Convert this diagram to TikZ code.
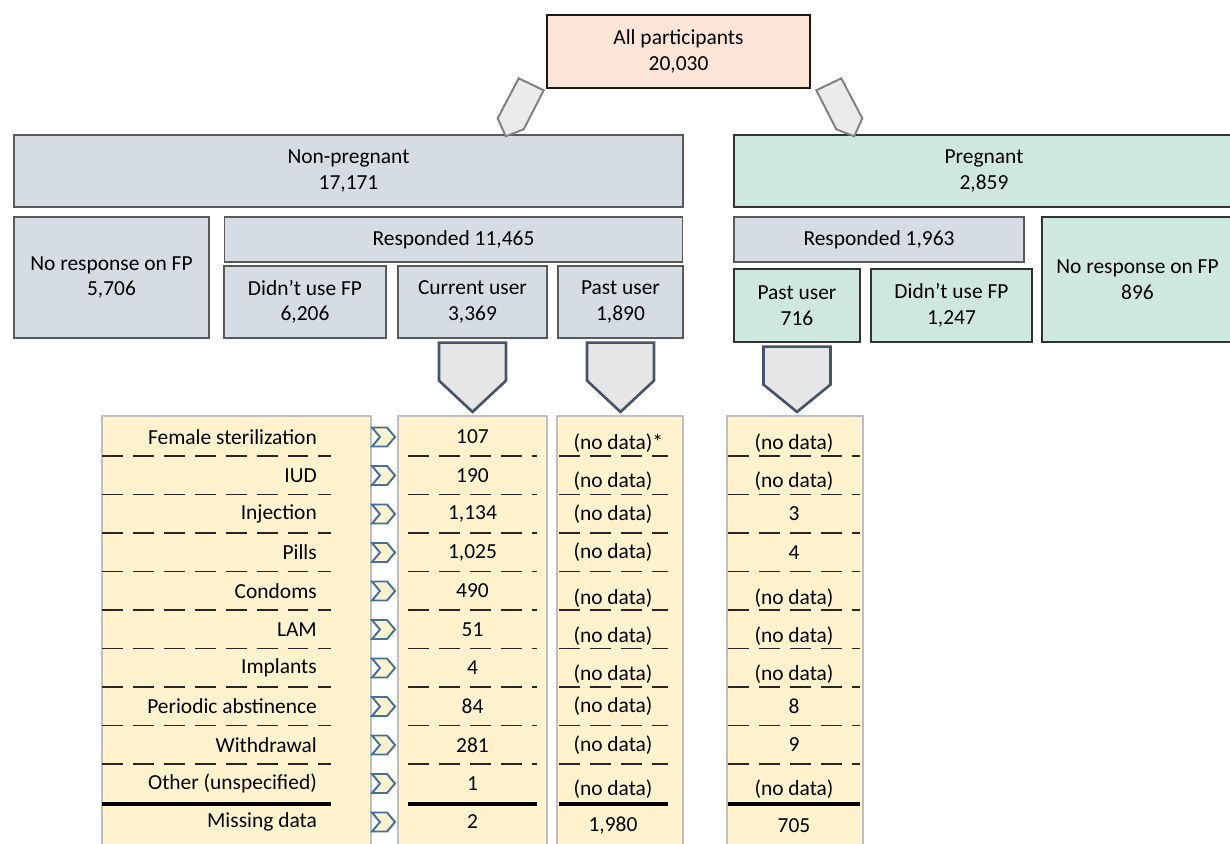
\documentclass[tikz,border=0pt]{standalone}
\usepackage{fontspec}
\setmainfont{Carlito}
\usepackage{xcolor}
\usepackage{tikz}
\usetikzlibrary{shapes,shapes.symbols,calc,arrows.meta}

\definecolor{salmon}{HTML}{FCE4D6}
\definecolor{greyfill}{HTML}{D6DCE4}
\definecolor{greenfill}{HTML}{CFE8DF}
\definecolor{tabfill}{HTML}{FFF2CC}
\definecolor{tabline}{HTML}{BFBFBF}
\definecolor{arrowline}{HTML}{44546A}
\definecolor{arrowfill}{HTML}{E7E6E6}
\definecolor{chevline}{HTML}{41719C}

\begin{document}
\begin{tikzpicture}[x=0.02cm, y=-0.02cm,
    every node/.style={font=\fontsize{12.2}{14.5}\selectfont, text=black},
    sz/.style 2 args={minimum width=#1*0.2mm, minimum height=#2*0.2mm},
    box/.style={draw=black!65, line width=0.7pt, align=center, inner sep=0pt},
    greybox/.style={box, fill=greyfill},
    greenbox/.style={box, fill=greenfill, draw=black!80},
    tabcol/.style={draw=tabline, line width=1.3pt, fill=tabfill, inner sep=0pt},
    downarrow/.style={draw=arrowline, line width=1.5pt, fill=arrowfill, line join=miter},
    sidearrow/.style={draw=black!50, line width=1.1pt, fill=black!8, line join=miter},
    chev/.style={signal, signal to=east, signal from=west, signal pointer angle=100,
        minimum width=4.6mm, minimum height=3.8mm, inner sep=0pt,
        draw=chevline, fill=tabfill, line width=1.1pt},
    rowline/.style={black!85, line width=0.6pt, dash pattern=on 11.9pt off 5.7pt},
    sumline/.style={black, line width=2pt}]

    \clip (0,0) rectangle (1230,844);

    % Top
    \node[box, fill=salmon, draw=black!90, line width=1.5pt, sz={263}{73}] (all) at (678.5,51.5) {All participants\\20,030};

    % Non-pregnant
    \node[greybox, sz={669}{72}] (nonpreg) at (348.5,171) {Non-pregnant\\17,171};
    \node[greybox, sz={195}{121}] (noresp1) at (111.5,277.5) {No response on FP\\5,706};
    \node[greybox, sz={458}{45}] (resp1) at (453.5,239.5) {Responded 11,465};
    \node[greybox, sz={162}{72}] (didnt1) at (305,302) {Didn’t use FP\\6,206};
    \node[greybox, sz={149}{72}] (cur1) at (472.5,302) {Current user\\3,369};
    \node[greybox, sz={125}{72}] (past1) at (620.5,302) {Past user\\1,890};

    % Pregnant
    \node[greenbox, sz={500}{72}] (preg) at (984,171) {Pregnant\\2,859};
    \node[greybox, sz={290}{45}] (resp2) at (879,239.5) {Responded 1,963};
    \node[greenbox, sz={126}{73}] (past2) at (797,305.5) {Past user\\716};
    \node[greenbox, sz={161}{73}] (didnt2) at (951.5,305.5) {Didn’t use FP\\1,247};
    \node[greenbox, sz={191}{125}] (noresp2) at (1137.5,279.5) {No response on FP\\896};

    % Split arrows
    \draw[sidearrow] ($(all.south west)+(-27,-11)$) -- ($(all.south west)+(-2,1)$) -- ($(all.south west)+(-22,40)$)
        -- ($(all.south west)+(-40,47)$) -- ($(all.south west)+(-48,29)$) -- cycle;
    \draw[sidearrow] ($(all.south east)+(30,-11)$) -- ($(all.south east)+(5,1)$) -- ($(all.south east)+(25,40)$)
        -- ($(all.south east)+(43,47)$) -- ($(all.south east)+(51,29)$) -- cycle;

    % Method columns
    \node[tabcol, sz={269}{460}] (labcol) at (236.5,646) {};
    \node[tabcol, sz={149}{460}] (curcol) at (472.5,646) {};
    \node[tabcol, sz={126}{460}] (pastcol) at (620,646) {};
    \node[tabcol, sz={136}{460}] (pregcol) at (795,646) {};

    \foreach \a/\b in {cur1/curcol, past1/pastcol, past2/pregcol}
        \draw[downarrow] ($(\a.south)+(-33.5,4)$) -- ($(\a.south)+(33.5,4)$) -- ($(\a.south)+(33.5,42)$)
            -- ($(\a.south |- \b.north)+(0,-3)$) -- ($(\a.south)+(-33.5,42)$) -- cycle;

    % Row lines
    \foreach \k in {0,...,8} {
        \draw[rowline] (102,{456+38.5*\k}) -- (331,{456+38.5*\k});
        \draw[rowline] (408,{456+38.5*\k}) -- (537,{456+38.5*\k});
        \draw[rowline] (559,{456+38.5*\k}) -- (668,{456+38.5*\k});
        \draw[rowline] (728,{456+38.5*\k}) -- (860,{456+38.5*\k});
    }
    \draw[sumline] (102,804) -- (331,804);
    \draw[sumline] (408,804) -- (537,804);
    \draw[sumline] (559,804) -- (668,804);
    \draw[sumline] (728,804) -- (860,804);

    % Rows
    \foreach \lab/\cur/\past/\preg/\dy [count=\i from 0] in {
        Female sterilization/107/(no data)\rlap{*}/(no data)/6,
        IUD/190/(no data)/(no data)/6,
        Injection/{1,134}/(no data)/3/0,
        Pills/{1,025}/(no data)/4/0,
        Condoms/490/(no data)/(no data)/7,
        LAM/51/(no data)/(no data)/7,
        Implants/4/(no data)/(no data)/6,
        Periodic abstinence/84/(no data)/8/0,
        Withdrawal/281/(no data)/9/0,
        Other (unspecified)/1/(no data)/(no data)/6,
        Missing data/2/{1,980}/705/4} {
        \node[anchor=east] (lab\i) at (323,{437+38.5*\i}) {\lab};
        \node[chev] (ch\i) at (383.5,{437+38.5*\i}) {};
        \node (cur\i) at (472.5,{437+38.5*\i}) {\cur};
        \node (past\i) at (613,{437+38.5*\i+\dy}) {\past};
        \node (preg\i) at (794,{437+38.5*\i+\dy}) {\preg};
    }
\end{tikzpicture}
\end{document}
